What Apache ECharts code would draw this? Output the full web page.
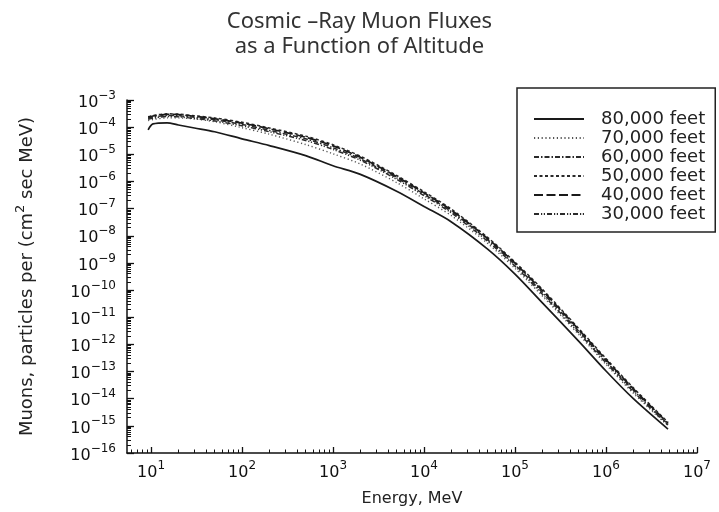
<!DOCTYPE html>
<html><head><meta charset="utf-8">
<script src="https://cdn.jsdelivr.net/npm/echarts@6/dist/echarts.min.js"></script>
<style>html,body{margin:0;padding:0;background:#fff}#c{width:719px;height:512px}</style>
</head><body><div id="c"></div>
<script>
// Energy (MeV) sample points
const energyMeV = [9.3, 10.5, 15, 20, 30, 50, 100, 200, 500, 1e3, 2e3, 5e3, 1e4, 2e4, 5e4, 1e5, 2e5, 5e5, 1e6, 2e6, 4.8e6];
// log10 of muon flux, particles per (cm2 sec MeV)
const log10Flux80k = [-4.10,-3.88,-3.84,-3.92,-4.03,-4.17,-4.43,-4.68,-5.05,-5.42,-5.74,-6.36,-6.92,-7.49,-8.49,-9.41,-10.47,-11.88,-12.98,-14.00,-15.12];
const log10Flux70k = [-3.76,-3.72,-3.66,-3.66,-3.70,-3.80,-4.02,-4.26,-4.64,-4.98,-5.36,-6.04,-6.64,-7.26,-8.28,-9.20,-10.22,-11.63,-12.74,-13.80,-15.00];
const log10Flux60k = [-3.68,-3.63,-3.57,-3.58,-3.64,-3.73,-3.90,-4.12,-4.43,-4.76,-5.17,-5.87,-6.47,-7.11,-8.15,-9.07,-10.09,-11.51,-12.62,-13.69,-14.94];
const log10Flux50k = [-3.62,-3.57,-3.51,-3.52,-3.58,-3.66,-3.82,-4.03,-4.33,-4.65,-5.07,-5.78,-6.38,-7.02,-8.06,-8.97,-9.97,-11.41,-12.52,-13.60,-14.87];
const log10Flux40k = [-3.64,-3.59,-3.53,-3.54,-3.60,-3.69,-3.85,-4.06,-4.37,-4.69,-5.11,-5.82,-6.42,-7.06,-8.10,-9.01,-10.02,-11.45,-12.56,-13.64,-14.90];
const log10Flux30k = [-3.71,-3.67,-3.61,-3.62,-3.68,-3.77,-3.95,-4.17,-4.49,-4.82,-5.22,-5.92,-6.52,-7.16,-8.20,-9.12,-10.15,-11.57,-12.68,-13.74,-14.97];
const seriesNames = ['80,000 feet','70,000 feet','60,000 feet','50,000 feet','40,000 feet','30,000 feet'];
const xTickExponents = [1, 2, 3, 4, 5, 6, 7];
const yTickExponents = [-16,-15,-14,-13,-12,-11,-10,-9,-8,-7,-6,-5,-4,-3];

const X_MIN = 0.736, X_MAX = 7.0, Y_MIN = -16, Y_MAX = -3;
function minorLogTicks(lo, hi) {
  const out = [];
  for (let n = Math.floor(lo) - 1; n <= Math.ceil(hi); n++) {
    for (let k = 2; k <= 9; k++) { const v = n + Math.log10(k); if (v > lo && v < hi) out.push(v); }
  }
  return out;
}
const seriesFlux = [log10Flux80k, log10Flux70k, log10Flux60k, log10Flux50k, log10Flux40k, log10Flux30k];
const styles = [
  {type: 'solid', width: 1.7, color: '#1a1a1a'},
  {type: [1.2, 2.6], width: 1.4, color: '#555'},
  {type: [5, 2, 1.5, 2], width: 1.5, color: '#2a2a2a'},
  {type: [3, 2.5], width: 1.5, color: '#2a2a2a'},
  {type: [9, 3.5], width: 1.7, color: '#1a1a1a'},
  {type: [5, 2, 1.2, 1.6, 1.2, 2], width: 1.5, color: '#2a2a2a'}
];
const labelFont = 'DejaVu Sans';
function powLabel(v) {
  const e = Math.round(v);
  return '{b|10}{s|' + String(e).replace('-', '\u2212') + '}';
}
const richLbl = {
  b: {fontSize: 16, fontFamily: labelFont, color: '#111', lineHeight: 21, verticalAlign: 'bottom'},
  s: {fontSize: 12, fontFamily: labelFont, color: '#111', lineHeight: 12, verticalAlign: 'top'}
};
// Tick-only axes, shifted into the plot so their ticks point inward from the axis line
function tickAxis(dir, values, len, w) {
  return {
    type: 'value', position: dir === 'x' ? 'bottom' : 'left', offset: -len,
    min: dir === 'x' ? X_MIN : Y_MIN, max: dir === 'x' ? X_MAX : Y_MAX,
    axisLine: {show: false, onZero: false},
    axisTick: {show: true, length: len, customValues: values, lineStyle: {color: '#111', width: w}},
    axisLabel: {show: false}, splitLine: {show: false}
  };
}
const chart = echarts.init(document.getElementById('c'), null, {renderer: 'canvas'});
chart.setOption({
  animation: false,
  backgroundColor: '#fff',
  title: {
    text: 'Cosmic \u2013Ray Muon Fluxes\nas a Function of Altitude',
    left: 'center', top: 4,
    textStyle: {fontFamily: 'Noto Sans', fontWeight: 'normal', fontSize: 22, lineHeight: 25, color: '#333'}
  },
  grid: {left: 127, right: 22, top: 100, bottom: 57, containLabel: false},
  legend: {
    orient: 'vertical', left: 517, top: 88,
    data: seriesNames,
    padding: [22, 10, 9, 16],
    borderColor: '#222', borderWidth: 1.5,
    itemWidth: 50, itemHeight: 14, itemGap: 1,
    itemStyle: {opacity: 0},
    textStyle: {fontFamily: labelFont, fontSize: 18, lineHeight: 18, color: '#222', padding: [0, 0, 0, 12]}
  },
  xAxis: [{
    type: 'value', min: X_MIN, max: X_MAX,
    name: 'Energy, MeV', nameLocation: 'middle', nameGap: 38,
    nameTextStyle: {fontFamily: labelFont, fontSize: 16, color: '#222'},
    axisLine: {show: true, onZero: false, lineStyle: {color: '#111', width: 1.5}},
    axisTick: {show: false},
    axisLabel: {customValues: xTickExponents, formatter: powLabel, rich: richLbl, margin: 7},
    splitLine: {show: false}
  }, tickAxis('x', xTickExponents, 6, 1.3), tickAxis('x', minorLogTicks(X_MIN, X_MAX), 3.5, 1)],
  yAxis: [{
    type: 'value', min: Y_MIN, max: Y_MAX,
    name: '{n|Muons, particles per (cm}{s|2}{n| sec MeV)}', nameLocation: 'middle', nameGap: 91,
    nameTextStyle: {rich: {
      n: {fontFamily: labelFont, fontSize: 18, color: '#222', lineHeight: 22, verticalAlign: 'bottom'},
      s: {fontFamily: labelFont, fontSize: 13, color: '#222', lineHeight: 13, verticalAlign: 'top'}
    }},
    axisLine: {show: true, onZero: false, lineStyle: {color: '#111', width: 1.5}},
    axisTick: {show: false},
    axisLabel: {customValues: yTickExponents, formatter: powLabel, rich: richLbl, margin: 11},
    splitLine: {show: false}
  }, tickAxis('y', yTickExponents, 7, 1.3), tickAxis('y', minorLogTicks(Y_MIN, Y_MAX), 4, 1)],
  series: seriesNames.map((name, i) => ({
    name, type: 'line',
    xAxisIndex: i < 2 ? i + 1 : 0, yAxisIndex: i < 2 ? i + 1 : 0,
    symbol: 'none', smooth: 0.3,
    lineStyle: styles[i], itemStyle: {color: styles[i].color},
    data: energyMeV.map((e, j) => [Math.log10(e), seriesFlux[i][j]])
  }))
});
</script></body></html>
